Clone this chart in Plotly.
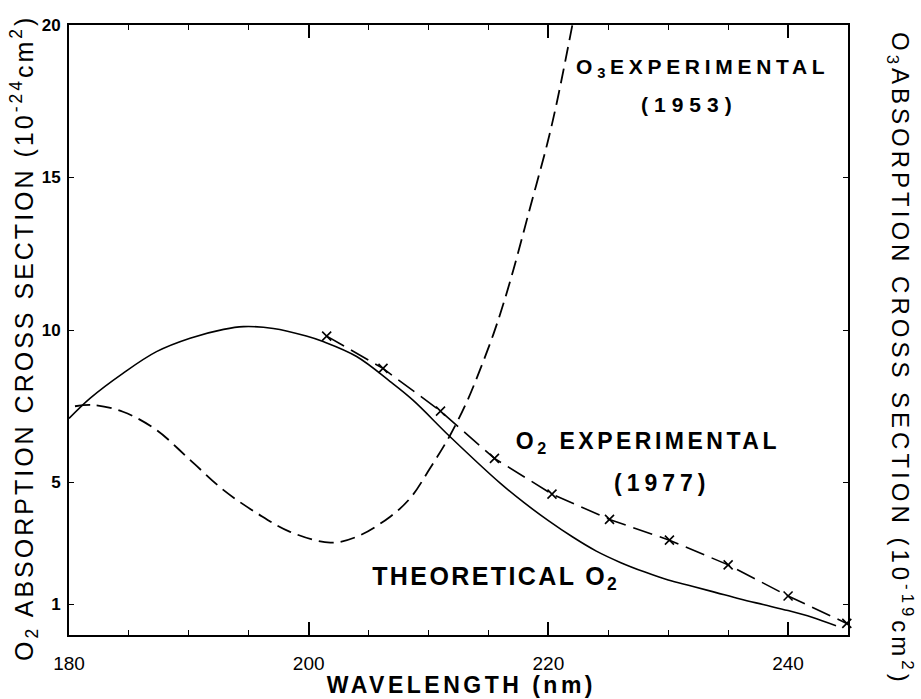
import json
import plotly.graph_objects as go

# ---- data ----
theory_wl = [180, 181.75, 184.5, 187.3, 190.1, 192.9, 194.55, 197.05, 199.8, 201.2, 204, 206.8,
             208.7, 211.8, 216, 218, 220, 222, 224, 226, 228, 230, 232, 234, 236, 238, 240, 242, 244]
theory_cs = [7.1, 7.76, 8.58, 9.29, 9.73, 10.02, 10.11, 10.05, 9.8, 9.62, 9.13, 8.31,
             7.7, 6.5, 4.97, 4.33, 3.75, 3.22, 2.75, 2.38, 2.07, 1.8, 1.6, 1.39, 1.18, 0.99, 0.8, 0.58, 0.3]

o3_wl = [180.5, 182, 184.5, 187.3, 190.1, 192.9, 195.7, 198.4, 201.8, 204, 206.8, 208.5,
         210.1, 211.8, 213.2, 214.3, 215.4, 216.2, 217.1, 218.5, 219.9, 220.7, 222]
o3_cs = [7.5, 7.54, 7.32, 6.72, 5.74, 4.75, 3.99, 3.39, 3.03, 3.22, 3.88, 4.5,
         5.45, 6.55, 7.65, 8.7, 9.85, 10.8, 12.0, 14.05, 16.1, 17.45, 20.0]

o2exp_wl = [201.5, 206.2, 211.0, 215.5, 220.3, 225.1, 230.1, 235.0, 240.0, 244.9]
o2exp_cs = [9.8, 8.74, 7.34, 5.79, 4.62, 3.79, 3.11, 2.3, 1.28, 0.38]

y_tickvals = [1, 5, 10, 15, 20]
y_ticktext = ["1", "5", "10", "15", "20"]

FONT = "Liberation Sans, Arial, Helvetica, sans-serif"

fig = go.Figure()
fig.add_trace(go.Scatter(x=theory_wl, y=theory_cs, mode="lines",
                         line=dict(color="black", width=1.6, shape="spline", smoothing=1.0),
                         name="Theoretical O2"))
fig.add_trace(go.Scatter(x=o3_wl, y=o3_cs, mode="lines",
                         line=dict(color="black", width=1.8, dash="15px,7px", shape="spline", smoothing=1.0),
                         name="O3 experimental (1953)"))
fig.add_trace(go.Scatter(x=o2exp_wl, y=o2exp_cs, mode="lines+markers",
                         line=dict(color="black", width=1.6, dash="20px,8px"),
                         marker=dict(symbol="x-thin", size=9, color="black",
                                     line=dict(width=1.6, color="black")),
                         cliponaxis=False, name="O2 experimental (1977)"))

fig.update_layout(
    width=921, height=699,
    margin=dict(l=69, r=73, t=25, b=64),
    paper_bgcolor="white", plot_bgcolor="white",
    showlegend=False,
    font=dict(family=FONT, color="black"),
)

fig.update_xaxes(
    range=[180, 245], tickmode="linear", tick0=180, dtick=20,
    ticks="inside", ticklen=13, tickwidth=1.5, tickcolor="black",
    showline=True, linecolor="black", linewidth=2, mirror="ticks",
    showgrid=False, zeroline=False,
    tickfont=dict(size=19, family=FONT), ticklabelstandoff=10,
    minor=dict(tick0=180, dtick=5, ticks="inside", ticklen=5, tickwidth=1.2,
               tickcolor="black", showgrid=False),
)
fig.update_yaxes(
    range=[0, 20], tickmode="array", tickvals=y_tickvals, ticktext=y_ticktext,
    ticks="inside", ticklen=5, tickwidth=1.2, tickcolor="black",
    showline=True, linecolor="black", linewidth=2, mirror="ticks",
    showgrid=False, zeroline=False,
    tickfont=dict(size=17, family=FONT, weight="bold"), ticklabelstandoff=3,
)

ann = [
    dict(text="O<sub>2</sub> ABSORPTION CROSS SECTION (10<sup>-24</sup>cm<sup>2</sup>)",
         xref="paper", yref="paper", x=(24 - 69) / 779, y=(635 - 338) / 610,
         textangle=-90, font=dict(size=25)),
    dict(text="O<sub>3</sub>ABSORPTION CROSS SECTION (10<sup>-19</sup>cm<sup>2</sup>)",
         xref="paper", yref="paper", x=(900 - 69) / 779, y=(635 - 359) / 610,
         textangle=90, font=dict(size=24)),
    dict(text="WAVELENGTH (nm)", xref="paper", yref="paper",
         x=(461 - 69) / 779, y=(635 - 685) / 610, font=dict(size=23, weight="bold")),
    dict(text="O<sub>3</sub>EXPERIMENTAL", x=232.86, y=18.59, font=dict(size=21, weight="bold")),
    dict(text="(1953)", x=231.8, y=17.38, font=dict(size=21, weight="bold")),
    dict(text="O<sub>2</sub> EXPERIMENTAL", x=228.3, y=6.30, font=dict(size=23, weight="bold")),
    dict(text="(1977)", x=229.5, y=4.98, font=dict(size=23, weight="bold")),
    dict(text="THEORETICAL O<sub>2</sub>", x=215.6, y=1.87, font=dict(size=25, weight="bold")),
]
for a in ann:
    a.setdefault("xref", "x")
    a.setdefault("yref", "y")
    a.update(showarrow=False, xanchor="center", yanchor="middle")
    a["font"].update(family=FONT, color="black")
fig.update_layout(annotations=ann)

spacing = [3, 4, 3.5, 4.7, 6, 3.5, 5, 2.4]
css = "html,body{margin:0;padding:0;overflow:hidden}" + "".join(
    '.annotation[data-index="%d"] .annotation-text{letter-spacing:%.1fpx}' % (i, s)
    for i, s in enumerate(spacing))
post = "var s=document.createElement('style');s.textContent=%s;document.head.appendChild(s);" % json.dumps(css)

fig.write_html("out.html", post_script=post, config={"displayModeBar": False})
